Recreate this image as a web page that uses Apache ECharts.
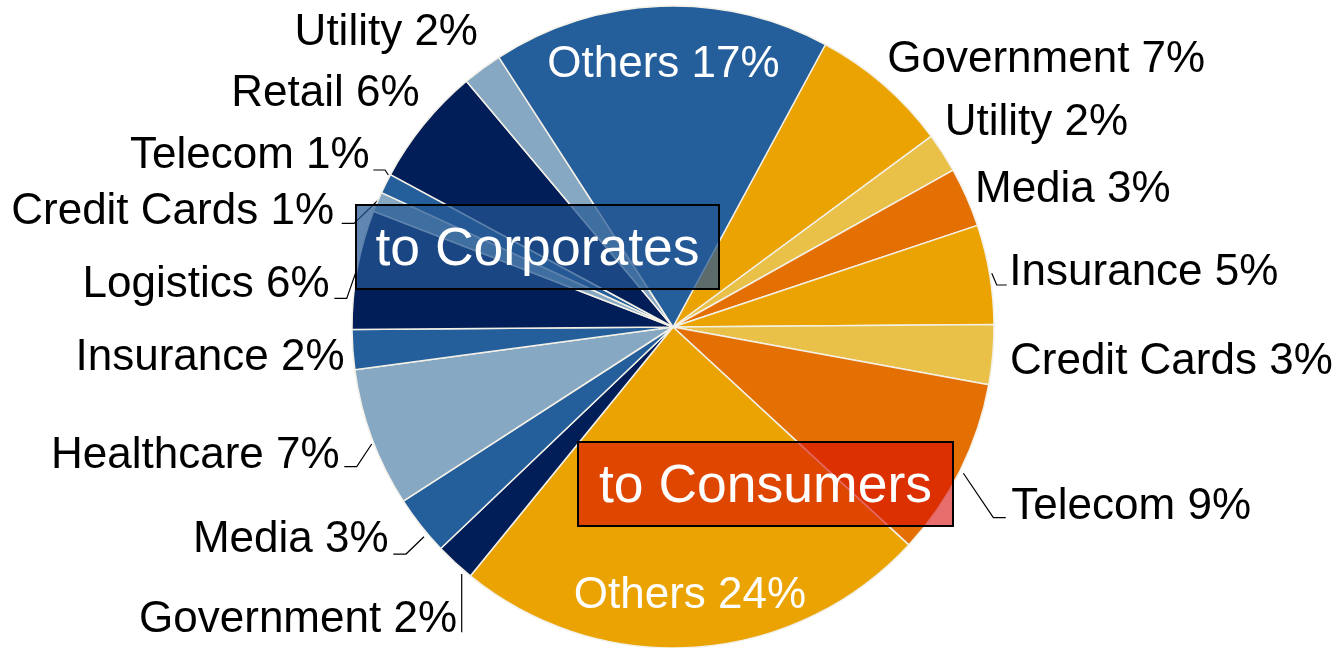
<!DOCTYPE html>
<html>
<head>
<meta charset="utf-8">
<script src="https://cdn.jsdelivr.net/npm/echarts@6/dist/echarts.min.js"></script>
<style>
html,body{margin:0;padding:0;background:#ffffff;}
#chart{width:1336px;height:648px;}
</style>
</head>
<body>
<div id="chart"></div>
<script>
// ---- data (clockwise from the Government 7% slice) ----
const sectors = ['Government','Utility','Media','Insurance','Credit Cards','Telecom','Others',
                 'Government','Media','Healthcare','Insurance','Logistics','Credit Cards','Telecom','Retail','Utility','Others'];
const shares  = [7, 2, 3, 5, 3, 9, 24,
                 2, 3, 7, 2, 6, 1, 1, 6, 2, 17];
const audience = ['Consumers','Consumers','Consumers','Consumers','Consumers','Consumers','Consumers',
                  'Corporates','Corporates','Corporates','Corporates','Corporates','Corporates','Corporates','Corporates','Corporates','Corporates'];

// ---- styles ----
const palette = {
  orange: '#EAA300', sand: '#E9C048', rust: '#E47004',
  blue: '#245F9C', navy: '#021E58', steel: '#86A8C3'
};
const sliceShade = ['orange','sand','rust','orange','sand','rust','orange',
                    'navy','blue','steel','blue','navy','steel','blue','navy','steel','blue'];
const insideLabel = [false,false,false,false,false,false,true,
                     false,false,false,false,false,false,false,false,false,true];

// label anchor offsets from each slice's outer mid-edge point
const labelOffset = [
  [3.9,-24.7],[2.1,-29.7],[8.4,-7.5],[19.7,-1.8],[17.2,7.1],[51.2,36.2],[-5.7,-51.7],
  [1.9,56.8],[-32.3,14.6],[-32.2,17.7],[-8.2,8.1],[-27.6,15.2],[-43.4,10.2],[-16.2,-27.7],[-4.5,-30.1],[-4.3,-36],[3.1,58.3]
];
const labelAlign = ['left','left','left','left','left','left','center',
                    'right','right','right','right','right','right','right','right','right','center'];
// leader-line bends, as offsets from the mid-edge point (null = no leader line)
const leaderBends = [
  null, null, null,
  [[2.1,-1],[7.1,10.7],[17.1,10.7]],
  null,
  [[3.2,2.8],[33.2,47.2],[45.6,47.2]],
  null,
  [[6.6,11.3],[6.6,69.6]],
  [[3.1,11],[-14.9,28.3],[-27.6,28.3]],
  [[-0.1,5.9],[-15.1,28.6],[-27.5,28.6]],
  null,
  [[-1.2,2.4],[-10.5,29],[-22.9,29]],
  [[0.9,-1.8],[-23.4,21.5],[-35.7,21.5]],
  [[2.5,-8.5],[-0.8,-13.5],[-12.5,-13.5]],
  null, null, null
];

const PIE_CX = 673, PIE_CY = 327, PIE_R = 321, START_ANGLE = 61.65;
const FONT = '"Liberation Sans", Arial, Helvetica, sans-serif';

const chart = echarts.init(document.getElementById('chart'), null, {renderer: 'canvas'});

function midEdge(i) {
  try {
    const data = chart.getModel().getSeriesByIndex(0).getData();
    const l = data.getItemLayout(i);
    if (l && l.r != null) {
      const m = (l.startAngle + l.endAngle) / 2;
      return [l.cx + l.r * Math.cos(m), l.cy + l.r * Math.sin(m)];
    }
  } catch (e) {}
  const total = shares.reduce((a, b) => a + b, 0);
  let before = 0;
  for (let k = 0; k < i; k++) before += shares[k];
  const a0 = -START_ANGLE * Math.PI / 180;
  const m = a0 + (before + shares[i] / 2) / total * Math.PI * 2;
  return [PIE_CX + PIE_R * Math.cos(m), PIE_CY + PIE_R * Math.sin(m)];
}

const seriesData = sectors.map((name, i) => ({
  name: name,
  value: shares[i],
  group: audience[i],
  itemStyle: { color: palette[sliceShade[i]] },
  label: { color: insideLabel[i] ? '#ffffff' : '#000000' },
  labelLine: { show: leaderBends[i] != null }
}));

const option = {
  animation: false,
  backgroundColor: '#ffffff',
  series: [{
    type: 'pie',
    center: [PIE_CX, PIE_CY],
    radius: [0, PIE_R],
    startAngle: START_ANGLE,
    clockwise: true,
    avoidLabelOverlap: false,
    data: seriesData,
    itemStyle: { borderColor: '#F3F0E7', borderWidth: 1.5 },
    label: {
      show: true,
      position: 'outside',
      formatter: '{b} {c}%',
      fontFamily: FONT,
      fontSize: 44,
      width: 520,
      overflow: 'none'
    },
    labelLine: { show: true, length: 4, length2: 4, smooth: false, lineStyle: { color: '#000000', width: 1.2 } },
    labelLayout: function (p) {
      const i = p.dataIndex;
      const E = midEdge(i);
      const off = labelOffset[i];
      const res = { x: E[0] + off[0], y: E[1] + off[1], align: labelAlign[i], verticalAlign: 'middle' };
      const b = leaderBends[i];
      if (b) res.labelLinePoints = b.map(o => [E[0] + o[0], E[1] + o[1]]);
      return res;
    },
    emphasis: { disabled: true }
  }],
  graphic: [
    { type: 'rect', z: 100, shape: { x: 356, y: 205, width: 363, height: 84 },
      style: { fill: 'rgba(36,87,148,0.72)', stroke: '#000000', lineWidth: 2 } },
    { type: 'text', z: 101, x: 537.5, y: 250,
      style: { text: 'to Corporates', fill: '#ffffff', fontSize: 53.5, fontFamily: FONT, align: 'center', verticalAlign: 'middle' } },
    { type: 'rect', z: 100, shape: { x: 578, y: 442, width: 375, height: 84 },
      style: { fill: 'rgba(215,0,0,0.57)', stroke: '#000000', lineWidth: 2 } },
    { type: 'text', z: 101, x: 765.5, y: 487,
      style: { text: 'to Consumers', fill: '#ffffff', fontSize: 53.5, fontFamily: FONT, align: 'center', verticalAlign: 'middle' } }
  ]
};

chart.setOption(option);
</script>
</body>
</html>
